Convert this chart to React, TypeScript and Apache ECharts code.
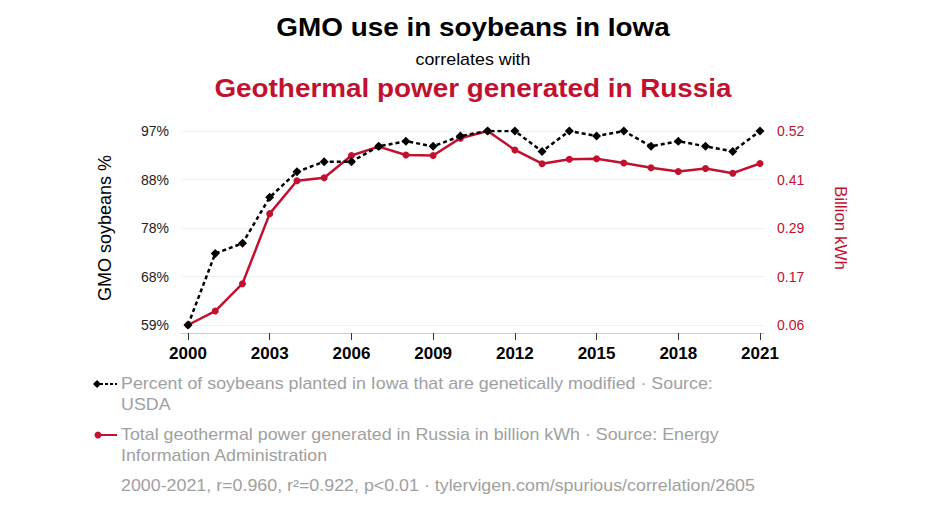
import React, { useEffect, useRef } from "react";
import * as echarts from "echarts";

const years = [2000, 2001, 2002, 2003, 2004, 2005, 2006, 2007, 2008, 2009, 2010, 2011, 2012, 2013, 2014, 2015, 2016, 2017, 2018, 2019, 2020, 2021];
const gmoSoybeans = [59, 73, 75, 84, 89, 91, 91, 94, 95, 94, 96, 97, 97, 93, 97, 96, 97, 94, 95, 94, 93, 97];
const geothermalRussia = [0.06, 0.093, 0.158, 0.324, 0.402, 0.409, 0.462, 0.483, 0.463, 0.462, 0.503, 0.52, 0.475, 0.4425, 0.453, 0.454, 0.444, 0.433, 0.424, 0.431, 0.42, 0.443];
const xTickYears = [2000, 2003, 2006, 2009, 2012, 2015, 2018, 2021];
const leftTickLabels = ["59%", "68%", "78%", "88%", "97%"];
const rightTickLabels = ["0.06", "0.17", "0.29", "0.41", "0.52"];

const RED = "#c1112f";
const GRAY = "#a0a0a0";
const FONT = "Liberation Sans, Arial, sans-serif";
const SX = 1.115;

function stretchedText(text: string, x: number, y: number, font: string, fill: string, align: string) {
  return {
    type: "text",
    x,
    y,
    scaleX: SX,
    style: { text, x: 0, y: 0, font, fill, textAlign: align, textVerticalAlign: "middle" },
  };
}

export default function App() {
  const ref = useRef<HTMLDivElement>(null);
  useEffect(() => {
    if (!ref.current) return;
    const chart = echarts.init(ref.current, null, { renderer: "svg" });
    const lMin = 59, lMax = 97, lInt = (lMax - lMin) / 4;
    const rMin = 0.06, rMax = 0.52, rInt = (rMax - rMin) / 4;
    chart.setOption({
      animation: false,
      backgroundColor: "#ffffff",
      textStyle: { fontFamily: FONT },
      grid: { left: 181, right: 182, top: 131, bottom: 188, containLabel: false },
      xAxis: {
        type: "value",
        min: 1999.743,
        max: 2021.147,
        offset: 8,
        splitLine: { show: false },
        axisLine: { show: true, lineStyle: { color: "#cccccc", width: 1 } },
        axisTick: { show: true, length: 7, lineStyle: { color: "#333333" }, customValues: xTickYears },
        axisLabel: {
          customValues: xTickYears,
          formatter: (v: number) => String(Math.round(v)),
          color: "#000000",
          fontWeight: "bold",
          fontSize: 17,
          margin: 12,
          fontFamily: FONT,
        },
      },
      yAxis: [
        {
          type: "value",
          min: lMin,
          max: lMax,
          interval: lInt,
          position: "left",
          name: "GMO soybeans %",
          nameLocation: "middle",
          nameGap: 67,
          nameTextStyle: { color: "#000000", fontSize: 18, fontFamily: FONT },
          axisLine: { show: false },
          axisTick: { show: false },
          splitLine: { show: true, lineStyle: { color: "#f0f0f0", width: 1 } },
          axisLabel: {
            color: "#222222",
            fontSize: 14,
            margin: 12,
            fontFamily: FONT,
            formatter: (v: number) => leftTickLabels[Math.round((v - lMin) / lInt)] ?? "",
          },
        },
        {
          type: "value",
          min: rMin,
          max: rMax,
          interval: rInt,
          position: "right",
          name: "Billion kWh",
          nameLocation: "middle",
          nameRotate: -90,
          nameGap: 68,
          nameTextStyle: { color: RED, fontSize: 17, fontFamily: FONT },
          axisLine: { show: false },
          axisTick: { show: false },
          splitLine: { show: false },
          axisLabel: {
            color: RED,
            fontSize: 14,
            margin: 13,
            fontFamily: FONT,
            formatter: (v: number) => rightTickLabels[Math.round((v - rMin) / rInt)] ?? "",
          },
        },
      ],
      series: [
        {
          name: "Total geothermal power generated in Russia",
          type: "line",
          yAxisIndex: 1,
          data: years.map((y, i) => [y, geothermalRussia[i]]),
          symbol: "circle",
          symbolSize: 7,
          itemStyle: { color: RED },
          lineStyle: { color: RED, width: 2.5 },
          z: 2,
        },
        {
          name: "Percent of soybeans planted in Iowa",
          type: "line",
          yAxisIndex: 0,
          data: years.map((y, i) => [y, gmoSoybeans[i]]),
          symbol: "diamond",
          symbolSize: 9,
          itemStyle: { color: "#000000" },
          lineStyle: { color: "#000000", width: 2.5, type: [4, 3] },
          z: 3,
        },
      ],
      graphic: [
        stretchedText("GMO use in soybeans in Iowa", 473, 28, `bold 25px ${FONT}`, "#000000", "center"),
        stretchedText("correlates with", 473, 60, `16px ${FONT}`, "#000000", "center"),
        stretchedText("Geothermal power generated in Russia", 473, 89, `bold 25px ${FONT}`, RED, "center"),
        { type: "line", shape: { x1: 95, y1: 384, x2: 117, y2: 384 }, style: { stroke: "#000000", lineWidth: 2, lineDash: [3, 2] } },
        { type: "polygon", shape: { points: [[97, 380], [101, 384], [97, 388], [93, 384]] }, style: { fill: "#000000" } },
        stretchedText("Percent of soybeans planted in Iowa that are genetically modified · Source:", 121, 384, `16px ${FONT}`, GRAY, "left"),
        stretchedText("USDA", 121, 405, `16px ${FONT}`, GRAY, "left"),
        { type: "line", shape: { x1: 95, y1: 435, x2: 117, y2: 435 }, style: { stroke: RED, lineWidth: 2 } },
        { type: "circle", shape: { cx: 98, cy: 435, r: 3.5 }, style: { fill: RED } },
        stretchedText("Total geothermal power generated in Russia in billion kWh · Source: Energy", 121, 435, `16px ${FONT}`, GRAY, "left"),
        stretchedText("Information Administration", 121, 456, `16px ${FONT}`, GRAY, "left"),
        stretchedText("2000-2021, r=0.960, r²=0.922, p<0.01 · tylervigen.com/spurious/correlation/2605", 121, 486, `16px ${FONT}`, GRAY, "left"),
      ],
    });
    return () => chart.dispose();
  }, []);
  return <div ref={ref} style={{ position: "fixed", left: 0, top: 0, width: 946, height: 513 }} />;
}
